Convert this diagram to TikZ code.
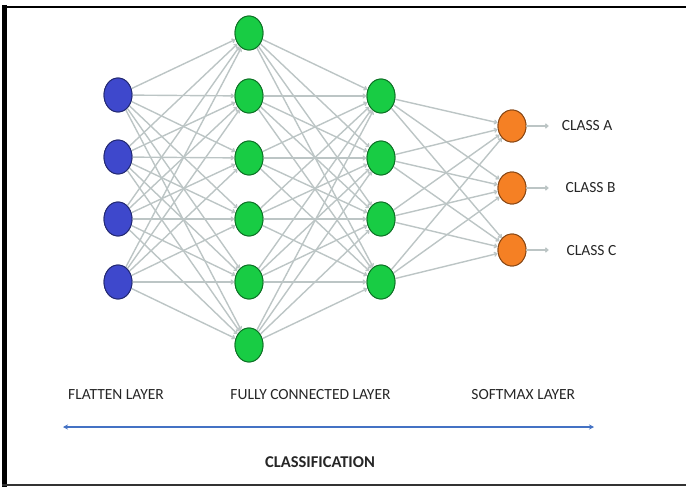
\documentclass[tikz,border=0pt]{standalone}
\usepackage{fontspec}
\setmainfont{Carlito}
\usetikzlibrary{arrows.meta,shapes.geometric}
\definecolor{nblue}{RGB}{62,72,204}
\definecolor{ngreen}{RGB}{24,204,68}
\definecolor{norange}{RGB}{245,128,36}
\definecolor{edgegray}{RGB}{188,197,197}
\definecolor{axisblue}{RGB}{68,114,196}
\tikzset{
  neuron/.style={ellipse, draw=#1!55!black, line width=0.9pt, minimum width=28pt, minimum height=34pt, inner sep=0pt},
  conn/.style={draw=edgegray, line width=1.4pt, -{To[length=3.5pt,width=5pt]}, shorten >=0.5pt},
  lbl/.style={font=\fontsize{15.5}{17}\selectfont, inner sep=0pt, text=black!85},
}
\begin{document}
\begin{tikzpicture}[x=1pt,y=-1pt]
\useasboundingbox (0,0) rectangle (686,487);
% frame
\draw[line width=5pt,black] (4,5) -- (4,487);
\draw[line width=2pt,black] (2,7) -- (686,7);
\draw[line width=2pt,black!80] (2,485) -- (686,485);
% layers (named, for the connectors)
\foreach \i/\y in {1/95,2/157,3/219,4/282}
  \node[neuron=nblue, fill=nblue] (a\i) at (118,\y) {};
\foreach \i/\y in {1/33,2/96,3/158,4/219,5/282,6/345}
  \node[neuron=ngreen, fill=ngreen] (b\i) at (249,\y) {};
\foreach \i/\y in {1/96,2/158,3/219,4/282}
  \node[neuron=ngreen, fill=ngreen] (c\i) at (381,\y) {};
\foreach \i/\y in {1/126,2/188,3/250}
  \node[neuron=norange, fill=norange, minimum height=32pt] (d\i) at (512,\y) {};
% connections
\foreach \i in {1,...,4}
  \foreach \j in {1,...,6}
    \draw[conn] (a\i) -- (b\j);
\foreach \i in {1,...,6}
  \foreach \j in {1,...,4}
    \draw[conn] (b\i) -- (c\j);
\foreach \i in {1,...,4}
  \foreach \j in {1,...,3}
    \draw[conn] (c\i) -- (d\j);
% nodes drawn again on top of the connectors
\foreach \i in {1,...,4}
  \node[neuron=nblue, fill=nblue] at (a\i) {};
\foreach \i in {1,...,6}
  \node[neuron=ngreen, fill=ngreen] at (b\i) {};
\foreach \i in {1,...,4}
  \node[neuron=ngreen, fill=ngreen] at (c\i) {};
\foreach \i in {1,2,3}
  \node[neuron=norange, fill=norange, minimum height=32pt] at (d\i) {};
% outputs
\foreach \i/\y in {1/126,2/188,3/250}
  \coordinate (o\i) at (549,\y);
\foreach \i in {1,2,3}
  \draw[conn] (d\i) -- (o\i);
\node[lbl] (ca) at (587,126) {CLASS A};
\node[lbl] (cb) at (590.5,188) {CLASS B};
\node[lbl] (cc) at (591.5,251) {CLASS C};
% bottom labels
\node[lbl] (fl) at (116,395) {FLATTEN LAYER};
\node[lbl] (fc) at (310.5,395) {FULLY CONNECTED LAYER};
\node[lbl] (sm) at (523.3,395) {SOFTMAX LAYER};
\coordinate (l) at (63,427);
\coordinate (r) at (594,427);
\draw[axisblue, line width=1.8pt, {Stealth[length=5pt,width=5pt]}-{Stealth[length=5pt,width=5pt]}] (l) -- (r);
\node[lbl, font=\fontsize{16.5}{18}\selectfont\bfseries] (cls) at (320,462) {CLASSIFICATION};
\end{tikzpicture}
\end{document}
